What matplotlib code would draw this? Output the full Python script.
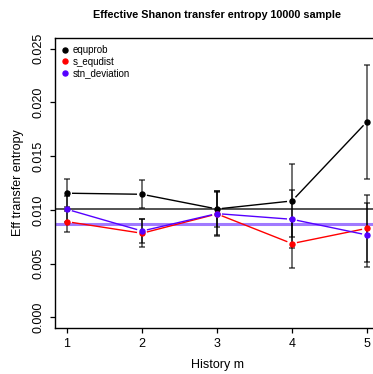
import numpy as np
import matplotlib
matplotlib.use("Agg")
import matplotlib.pyplot as plt

plt.rcParams['font.family'] = ['Liberation Sans', 'DejaVu Sans']

history = [1, 2, 3, 4, 5]

equprob = [0.01155, 0.01145, 0.01008, 0.01083, 0.01821]
equprob_err = [0.0013, 0.0013, 0.0017, 0.0034, 0.0053]

s_equdist = [0.0089, 0.00782, 0.00962, 0.00686, 0.00828]
s_equdist_err = [0.0010, 0.0013, 0.0021, 0.0023, 0.0031]

stn_deviation = [0.01005, 0.00803, 0.00965, 0.00912, 0.00766]
stn_deviation_err = [0.0012, 0.0011, 0.0020, 0.0027, 0.0030]

ref_black = 0.01008
ref_purple = 0.00872

series = [
    ("equprob", equprob, equprob_err, "black"),
    ("s_equdist", s_equdist, s_equdist_err, "#ff0000"),
    ("stn_deviation", stn_deviation, stn_deviation_err, "#5500ff"),
]


def gapped_line(ax, x, y, color, gap=5.0):
    # R type="b": lines stop short of the points
    pts = ax.transData.transform(np.column_stack([x, y]))
    inv = ax.transData.inverted()
    for i in range(len(pts) - 1):
        p0, p1 = pts[i], pts[i + 1]
        d = p1 - p0
        L = np.hypot(*d)
        if L <= 2 * gap:
            continue
        u = d / L
        a = inv.transform(p0 + u * gap)
        b = inv.transform(p1 - u * gap)
        ax.plot([a[0], b[0]], [a[1], b[1]], color=color, lw=1.0,
                solid_capstyle='butt', zorder=3)


fig = plt.figure(figsize=(3.73, 3.74), dpi=100)
ax = fig.add_axes([55 / 373, 1 - 328 / 374, 324 / 373, 290 / 374])
ax.set_xlim(0.84, 5.16)
ax.set_ylim(-0.001, 0.026)

ax.axhline(ref_purple, color="#a07aff", lw=2.2, zorder=1)
ax.axhline(ref_black, color="#444444", lw=1.3, zorder=1)

for name, vals, errs, col in series:
    ax.errorbar(history, vals, yerr=errs, fmt='none', ecolor=(0, 0, 0, 0.6),
                elinewidth=1.3, capsize=2.2, capthick=1.3, zorder=2)

fig.canvas.draw()
for name, vals, errs, col in series:
    gapped_line(ax, history, vals, col)
    ax.plot(history, vals, 'o', color=col, ms=3.6, zorder=4, label=name)

ax.set_xticks(history)
ax.set_yticks([0.0, 0.005, 0.010, 0.015, 0.020, 0.025])
ax.set_yticklabels(["0.000", "0.005", "0.010", "0.015", "0.020", "0.025"],
                   rotation=90, va='center')
ax.tick_params(axis='both', direction='out', length=3.6, width=0.9,
               labelsize=9, colors='black')
ax.tick_params(axis='y', pad=4)
ax.tick_params(axis='x', pad=3.5)
ax.spines['right'].set_visible(False)
for s in ['left', 'bottom', 'top']:
    ax.spines[s].set_linewidth(1.0)

fig.text(217 / 373, 1 - 365 / 374, "History m", ha='center', va='center', fontsize=9)
ax.set_ylabel("Eff transfer entropy", fontsize=9, labelpad=6)
fig.text(217 / 373, 1 - 15 / 374, "Effective Shanon transfer entropy 10000 sample",
         ha='center', va='center', fontsize=7.8, fontweight='bold')

ax.legend(loc='upper left', frameon=False, fontsize=7, handlelength=0.6,
          handletextpad=0.5, borderaxespad=0.3, labelspacing=0.15,
          markerscale=1.0, borderpad=0.45)

fig.savefig("out.png", dpi=100)
